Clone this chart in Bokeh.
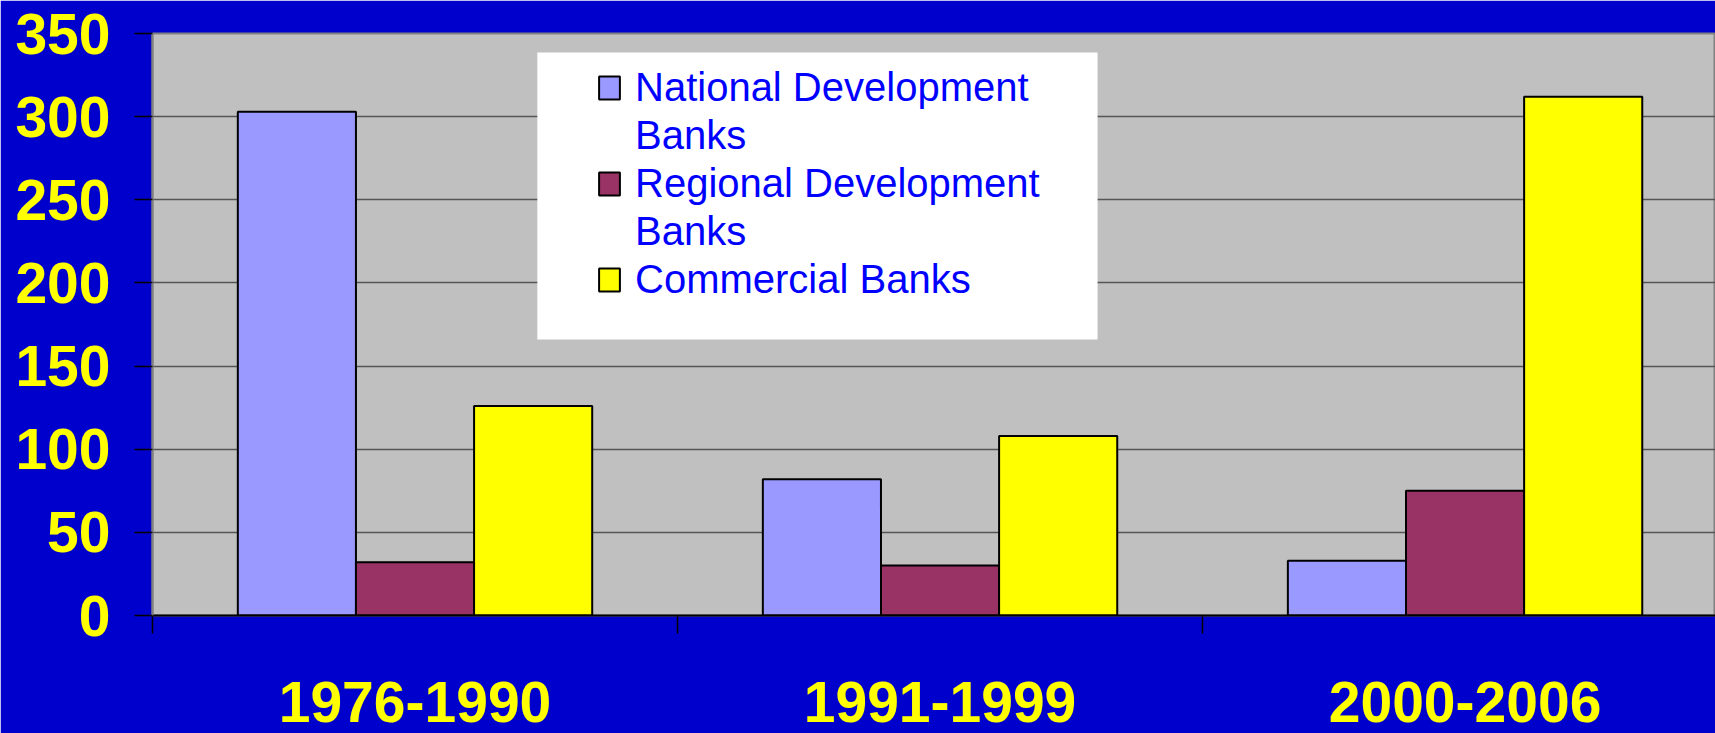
from bokeh.plotting import figure
from bokeh.models import Range1d, FixedTicker, Legend, LegendItem, ColumnDataSource, BoxAnnotation
from bokeh.transform import dodge
from bokeh.embed import file_html
from bokeh.resources import INLINE

categories = ["1976-1990", "1991-1999", "2000-2006"]
series_names = ["National Development Banks", "Regional Development Banks", "Commercial Banks"]
# legend labels as they wrap in the reference (first line carries the swatch)
legend_lines = [["National Development", "Banks"], ["Regional Development", "Banks"], ["Commercial Banks"]]
national = [303, 82, 33]
regional = [32, 30, 75]
commercial = [126, 108, 312]
y_ticks = [0, 50, 100, 150, 200, 250, 300, 350]
colors = ["#9999FF", "#993366", "#FFFF00"]

centers = [i + 0.5 for i in range(len(categories))]
source = ColumnDataSource(dict(x=centers, cat=categories, national=national,
                               regional=regional, commercial=commercial))

p = figure(width=1715, height=733, output_backend="svg", toolbar_location=None,
           x_range=Range1d(0, 2.977), y_range=Range1d(0, 350),
           min_border_left=152, min_border_top=33, min_border_right=0, min_border_bottom=118)
p.background_fill_color = "#C0C0C0"
p.border_fill_color = "#0000CC"
p.outline_line_color = "#808080"
p.outline_line_width = 2

bw = 0.225
renderers = []
for key, off, col in zip(["national", "regional", "commercial"], [-bw, 0, bw], colors):
    r = p.vbar(x=dodge("x", off, range=p.x_range), top=key, width=bw, bottom=0,
               source=source, fill_color=col, line_color="black", line_width=2)
    renderers.append(r)

# y axis
p.yaxis.ticker = FixedTicker(ticks=y_ticks)
p.yaxis.major_label_text_font = "Liberation Sans"
p.yaxis.major_label_text_font_style = "bold"
p.yaxis.major_label_text_font_size = "57px"
p.yaxis.major_label_text_color = "#FFFF00"
p.yaxis.major_tick_out = 18
p.yaxis.major_tick_in = 0
p.yaxis.major_tick_line_color = "black"
p.yaxis.major_tick_line_width = 1.5
p.yaxis.minor_tick_line_color = None
p.yaxis.axis_line_color = "#808080"
p.yaxis.axis_line_width = 2
p.yaxis.major_label_standoff = 24

# x axis
p.xaxis.ticker = FixedTicker(ticks=centers, minor_ticks=[0, 1, 2, 3])
p.xaxis.major_label_overrides = {c: lab for c, lab in zip(centers, categories)}
p.xaxis.major_label_text_font = "Liberation Sans"
p.xaxis.major_label_text_font_style = "bold"
p.xaxis.major_label_text_font_size = "57px"
p.xaxis.major_label_text_color = "#FFFF00"
p.xaxis.major_tick_out = 0
p.xaxis.major_tick_in = 0
p.xaxis.minor_tick_out = 18
p.xaxis.minor_tick_in = 0
p.xaxis.minor_tick_line_color = "black"
p.xaxis.minor_tick_line_width = 1.5
p.xaxis.axis_line_color = "black"
p.xaxis.axis_line_width = 2
p.xaxis.major_label_standoff = 48

p.xgrid.grid_line_color = None
p.ygrid.grid_line_color = "#555555"
p.ygrid.grid_line_width = 1.5

# white legend panel (position of the legend frame, in axis units)
panel = BoxAnnotation(left=0.733, right=1.8, bottom=166, top=338.6,
                      fill_color="white", fill_alpha=1, line_color=None)
p.add_layout(panel)

items = []
for lines, r in zip(legend_lines, renderers):
    items.append(LegendItem(label=lines[0], renderers=[r]))
    for extra in lines[1:]:
        items.append(LegendItem(label=extra, renderers=[]))

legend = Legend(items=items, location=(444, 312))
legend.label_text_font = "Liberation Sans"
legend.label_text_font_size = "40px"
legend.label_text_color = "#0000FF"
legend.label_height = 48
legend.glyph_width = 26
legend.glyph_height = 29
legend.label_standoff = 13
legend.padding = 10
legend.spacing = 0
legend.label_width = 400
legend.background_fill_color = "white"
legend.background_fill_alpha = 0
legend.border_line_color = None
legend.margin = 0
p.add_layout(legend, "center")

open("out.html", "w").write(file_html(p, INLINE))
